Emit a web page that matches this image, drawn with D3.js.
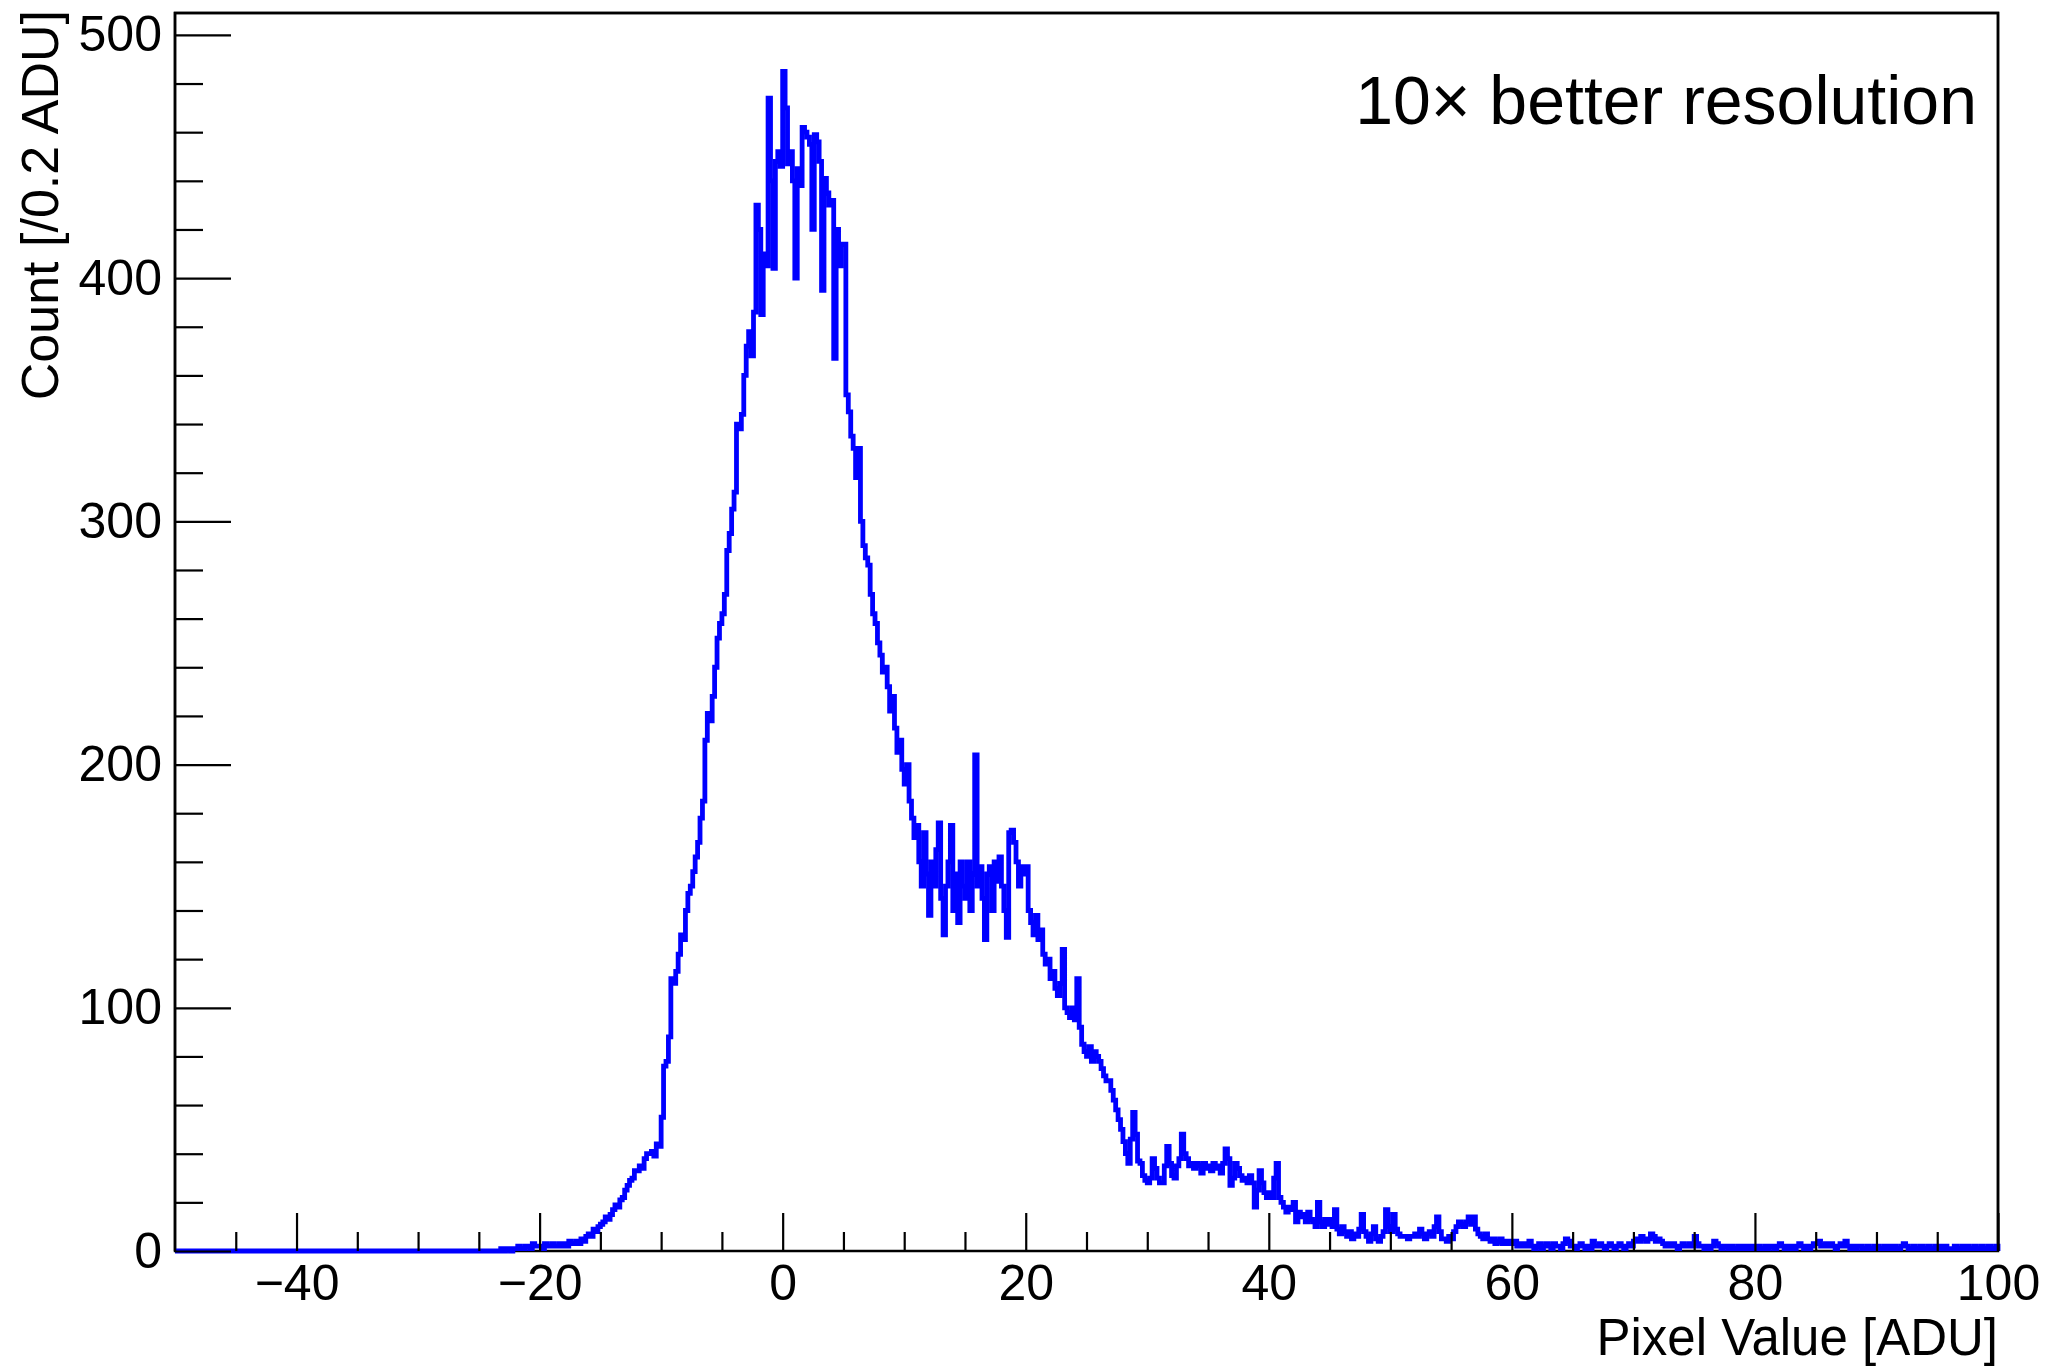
<!DOCTYPE html>
<html>
<head>
<meta charset="utf-8">
<script src="https://cdn.jsdelivr.net/npm/d3@7"></script>
<style>
  html, body { margin: 0; padding: 0; background: #ffffff; }
  svg { display: block; }
  text { font-family: "Liberation Sans", Arial, Helvetica, sans-serif; fill: #000; }
</style>
</head>
<body>
<svg id="chart" width="2055" height="1367"></svg>
<script>
// ---------------- data ----------------
const xMin = -50;
const xMax = 100;
const binWidth = 0.2;
const yMax = 509;

// counts per 0.2 ADU bin, one row = 5 ADU (25 bins), starting at -50
const counts = [
  /* -50 */ 0,0,0,0,0, 0,0,0,0,0, 0,0,0,0,0, 0,0,0,0,0, 0,0,0,0,0,
  /* -45 */ 0,0,0,0,0, 0,0,0,0,0, 0,0,0,0,0, 0,0,0,0,0, 0,0,0,0,0,
  /* -40 */ 0,0,0,0,0, 0,0,0,0,0, 0,0,0,0,0, 0,0,0,0,0, 0,0,0,0,0,
  /* -35 */ 0,0,0,0,0, 0,0,0,0,0, 0,0,0,0,0, 0,0,0,0,0, 0,0,0,0,0,
  /* -30 */ 0,0,0,0,0, 0,0,0,0,0, 0,0,0,0,0, 0,0,0,0,0, 0,0,0,0,0,
  /* -25 */ 0,0,0,0,0, 0,0,0,0,1, 0,1,1,0,1, 1,2,1,1,2, 2,1,3,2,2,
  /* -20 */ 2,1,3,2,2, 3,2,2,3,2, 3,2,4,3,3, 4,3,5,4,6, 7,6,9,8,10,
  /* -15 */ 11,12,14,13,15, 17,19,18,21,22, 25,27,29,30,33, 33,35,34,38,40, 40,41,39,44,43,
  /* -10 */ 55,76,78,88,112, 110,115,122,130,128, 140,147,150,156,162, 168,178,185,210,221, 218,228,240,252,258,
  /*  -5 */ 262,270,288,295,305, 312,340,338,344,360, 372,378,368,386,430, 420,385,410,405,474, 440,404,448,452,446,
  /*   0 */ 485,470,447,452,440, 400,445,438,462,460, 458,455,420,459,456, 448,395,441,435,430, 432,367,420,405,414,
  /*   5 */ 414,352,345,335,330, 318,330,300,290,285, 282,270,262,258,250, 245,238,240,232,222, 228,215,205,210,198,
  /*  10 */ 192,200,185,178,170, 175,160,150,172,155, 138,160,150,165,176, 145,130,150,160,175, 140,155,135,160,150,
  /*  15 */ 145,160,140,155,204, 150,158,145,128,155, 158,140,160,152,162, 150,140,129,172,173, 168,160,150,158,155,
  /*  20 */ 158,140,135,130,138, 128,132,122,118,120, 112,115,108,105,110, 124,100,98,96,100, 95,112,92,85,82,
  /*  25 */ 80,84,78,82,80, 78,75,72,70,70, 66,62,58,54,50, 45,40,36,46,57, 48,37,36,31,29,
  /*  30 */ 28,30,38,34,30, 28,28,35,43,36, 31,30,35,38,48, 40,38,35,36,34, 36,35,32,36,34,
  /*  35 */ 35,33,36,34,35, 32,36,42,38,27, 30,36,34,31,29, 30,28,31,28,18, 25,33,28,24,22,
  /*  40 */ 24,22,30,36,22, 20,18,16,18,17, 20,12,16,14,15, 12,16,13,12,10, 20,12,10,13,11,
  /*  45 */ 13,10,17,9,7, 10,8,6,8,5, 7,6,9,15,8, 6,4,7,10,5, 4,6,8,17,10,
  /*  50 */ 8,15,9,7,6, 6,6,5,6,6, 7,6,9,7,5, 7,8,6,10,14, 8,5,5,4,6,
  /*  55 */ 5,8,10,12,11, 10,12,14,11,14, 9,7,6,5,7, 5,4,5,3,4, 5,3,4,3,4,
  /*  60 */ 3,4,2,3,2, 3,2,4,2,1, 2,3,1,2,3, 2,1,3,2,2, 1,3,5,4,2,
  /*  65 */ 2,1,2,3,2, 1,2,1,4,2, 2,3,2,1,2, 3,2,1,2,3, 2,1,2,3,2,
  /*  70 */ 4,5,4,6,5, 4,5,7,6,4, 5,4,3,2,3, 2,3,2,1,2, 3,2,2,3,2,
  /*  75 */ 6,3,2,2,1, 2,1,2,4,3, 2,1,2,2,1, 2,1,1,2,1, 2,1,2,1,2,
  /*  80 */ 1,2,1,1,2, 1,2,2,1,2, 3,2,1,2,1, 2,1,2,3,2, 1,2,1,2,3,
  /*  85 */ 3,4,2,2,3, 2,3,2,1,2, 3,2,4,2,1, 2,1,2,2,1, 1,2,1,1,2,
  /*  90 */ 2,1,1,2,1, 2,1,2,1,1, 2,3,2,1,1, 2,1,1,2,1, 1,2,1,1,2,
  /*  95 */ 1,2,1,2,1, 1,1,2,1,1, 2,1,2,1,1, 2,1,1,2,1, 1,2,1,1,2
];

const xMajorTicks = [-40, -20, 0, 20, 40, 60, 80, 100];
const yMajorTicks = [0, 100, 200, 300, 400, 500];
const xTitle = "Pixel Value [ADU]";
const yTitle = "Count [/0.2 ADU]";
const annotation = "10\u00d7 better resolution";

// ---------------- layout ----------------
const frame = { left: 175, right: 1998, top: 13, bottom: 1251 };
const svg = d3.select("#chart");

const x = d3.scaleLinear().domain([xMin, xMax]).range([frame.left, frame.right]);
const y = d3.scaleLinear().domain([0, yMax]).range([frame.bottom, frame.top]);

const fontSize = 50;
const titleSize = 51;

// histogram outline
const pts = [[x(xMin), y(0)]];
counts.forEach((c, i) => {
  const x0 = xMin + i * binWidth;
  const x1 = x0 + binWidth;
  pts.push([x(x0), y(c)]);
  pts.push([x(x1), y(c)]);
});
pts.push([x(xMax), y(0)]);

// frame
svg.append("rect")
  .attr("x", frame.left).attr("y", frame.top)
  .attr("width", frame.right - frame.left)
  .attr("height", frame.bottom - frame.top)
  .attr("fill", "none")
  .attr("stroke", "#000")
  .attr("stroke-width", 2.5);

svg.append("path")
  .attr("d", d3.line()(pts))
  .attr("fill", "none")
  .attr("stroke", "#0000ff")
  .attr("stroke-width", 4.8)
  .attr("stroke-linejoin", "miter");

// x axis (ticks pointing up into the frame)
const xMinor = x.ticks(30).filter(v => !xMajorTicks.includes(v) && v > xMin && v < xMax);
svg.append("g")
  .attr("transform", `translate(0,${frame.bottom})`)
  .call(d3.axisBottom(x).tickValues(xMinor).tickSize(-19).tickFormat(""))
  .call(g => g.select(".domain").remove())
  .call(g => g.selectAll("line").attr("stroke", "#000").attr("stroke-width", 2.2));

const gx = svg.append("g")
  .attr("transform", `translate(0,${frame.bottom})`)
  .call(d3.axisBottom(x).tickValues(xMajorTicks).tickSize(-38).tickPadding(13.5));
gx.select(".domain").remove();
gx.selectAll("line").attr("stroke", "#000").attr("stroke-width", 2.2);
gx.selectAll("text").attr("font-size", fontSize).attr("font-family", "Liberation Sans, Arial, sans-serif").attr("fill", "#000");

// y axis (ticks pointing right into the frame)
const yMinor = y.ticks(25).filter(v => !yMajorTicks.includes(v) && v < yMax);
svg.append("g")
  .attr("transform", `translate(${frame.left},0)`)
  .call(d3.axisLeft(y).tickValues(yMinor).tickSize(-28).tickFormat(""))
  .call(g => g.select(".domain").remove())
  .call(g => g.selectAll("line").attr("stroke", "#000").attr("stroke-width", 2.2));

const gy = svg.append("g")
  .attr("transform", `translate(${frame.left},0)`)
  .call(d3.axisLeft(y).tickValues(yMajorTicks).tickSize(-56).tickPadding(13));
gy.select(".domain").remove();
gy.selectAll("line").attr("stroke", "#000").attr("stroke-width", 2.2);
gy.selectAll("text").attr("font-size", fontSize).attr("font-family", "Liberation Sans, Arial, sans-serif").attr("fill", "#000");

// frame edges drawn again on top (left, top, right)
svg.append("path")
  .attr("d", `M${frame.left},${frame.bottom}V${frame.top}H${frame.right}V${frame.bottom}`)
  .attr("fill", "none")
  .attr("stroke", "#000")
  .attr("stroke-width", 2.5);

// titles
svg.append("text")
  .attr("x", frame.right).attr("y", 1355)
  .attr("text-anchor", "end")
  .attr("font-size", titleSize)
  .text(xTitle);

svg.append("text")
  .attr("transform", `translate(58,${frame.top - 3}) rotate(-90)`)
  .attr("text-anchor", "end")
  .attr("font-size", titleSize + 1)
  .text(yTitle);

svg.append("text")
  .attr("x", 1977).attr("y", 124)
  .attr("text-anchor", "end")
  .attr("font-size", 68)
  .text(annotation);
</script>
</body>
</html>
